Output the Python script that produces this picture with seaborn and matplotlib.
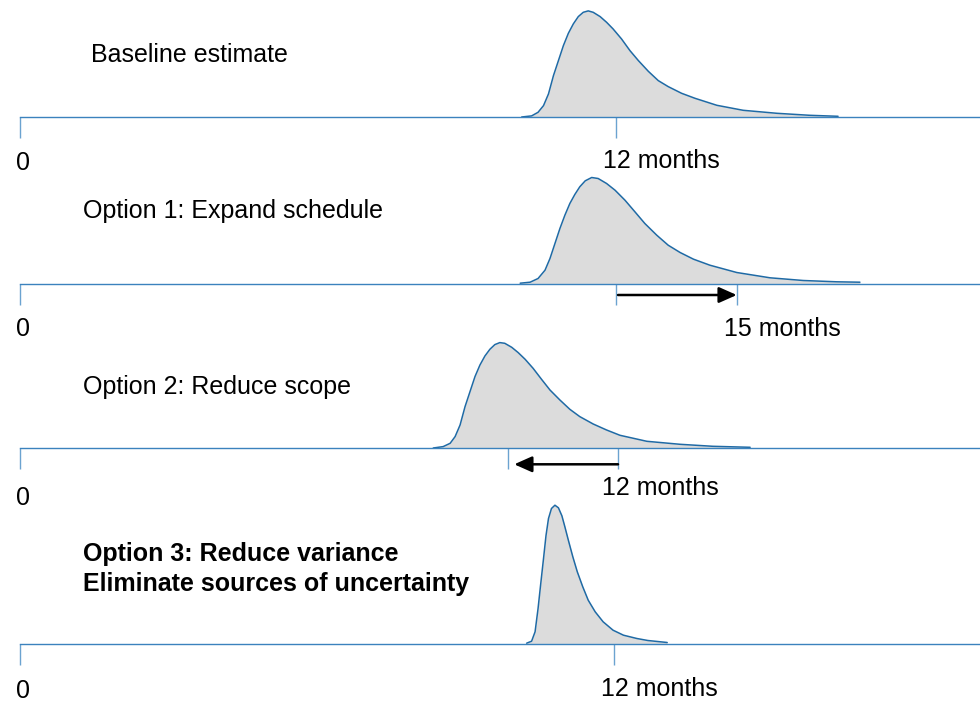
import matplotlib
matplotlib.use("Agg")
import matplotlib.pyplot as plt
import seaborn as sns

# schedule distributions, x in months, y = curve height (px above the axis line)
base_x = [10.10, 10.30, 10.43, 10.54, 10.64, 10.74, 10.84, 10.94, 11.04, 11.14,
          11.24, 11.34, 11.44, 11.54, 11.68, 11.81, 11.94, 12.11, 12.28, 12.45,
          12.65, 12.85, 13.05, 13.32, 13.59, 14.03, 14.56, 15.24, 15.90, 16.47]
base_y = [0.3, 1.4, 5, 11.7, 23.4, 41.7, 56.7, 71.7, 84, 93.4,
          100.7, 105, 106.4, 105, 100.7, 95, 88.4, 78.4, 66.7, 56.7,
          46, 36.7, 30.7, 24, 19, 12, 7, 4, 2, 1]

opt1_x = [10.07, 10.27, 10.43, 10.57, 10.67, 10.77, 10.87, 10.97, 11.07, 11.17,
          11.27, 11.38, 11.51, 11.64, 11.81, 11.98, 12.18, 12.38, 12.58, 12.82,
          13.05, 13.29, 13.56, 13.89, 14.43, 15.10, 15.77, 16.44, 16.91]
opt1_y = [0.3, 1.3, 5, 13.3, 25, 40, 55, 68.3, 80, 89,
          96.7, 102.7, 106, 105, 100, 93.3, 83.3, 71.7, 60, 48.3,
          38.3, 31, 24.3, 18.3, 11, 5.7, 3, 1.7, 1.3]

opt2_x = [8.32, 8.52, 8.66, 8.76, 8.86, 8.96, 9.06, 9.16, 9.26, 9.36,
          9.46, 9.56, 9.66, 9.76, 9.90, 10.03, 10.17, 10.33, 10.50, 10.67,
          10.87, 11.07, 11.27, 11.54, 11.81, 12.08, 12.62, 13.29, 13.95, 14.70]
opt2_y = [0.3, 1.7, 5, 11.7, 23.3, 41.7, 56.7, 71.7, 83.3, 92.3,
          99, 103.7, 105.7, 105, 101, 95.7, 89, 80, 69, 58.3,
          48.3, 39, 31.7, 24.3, 18.3, 13, 7, 4, 2, 1]

opt3_x = [10.20, 10.30, 10.37, 10.43, 10.48, 10.54, 10.59, 10.64, 10.70, 10.77,
          10.84, 10.91, 10.97, 11.04, 11.13, 11.22, 11.33, 11.44, 11.58, 11.74,
          11.94, 12.15, 12.42, 12.64, 13.03]
opt3_y = [0.3, 2.3, 11.7, 35, 58, 85, 108, 125, 135, 138.3,
          135.7, 127.7, 116.7, 103.3, 86.7, 71.7, 56.7, 43.3, 31.7, 21.7,
          13.3, 8.3, 5, 3, 1]

titles = [["Baseline estimate"],
          ["Option 1: Expand schedule"],
          ["Option 2: Reduce scope"],
          ["Option 3: Reduce variance", "Eliminate sources of uncertainty"]]

ticks = [[0, 12], [0, 12, 14.43], [0, 9.82, 12.04], [0, 11.96]]
tick_labels = [["0", "12 months"], ["0", "", "15 months"], ["0", "", "12 months"], ["0", "12 months"]]
arrows = [None, (12.04, 14.43), (12.04, 9.95), None]  # (from, to) in months

curves = [(base_x, base_y), (opt1_x, opt1_y), (opt2_x, opt2_y), (opt3_x, opt3_y)]

# layout (pixels)
W, H = 980, 703
baselines = [117.3, 283.5, 448.3, 643.5]
title_x = [1.43, 1.27, 1.27, 1.27]
title_y = [[55.5], [65.5], [54.5], [82, 52]]
label_y = [[-52.5, -51], [-52.5, 0, -52.5], [-56.5, 0, -47], [-55, -52.5]]
label_dx = [[0.07, -0.26], [0.07, 0, -0.26], [0.07, 0, -0.32], [0.07, -0.26]]
arrow_y = [0, -11.5, -16, 0]

sns.set_style("white")
plt.rcParams['font.family'] = ['Liberation Sans', 'DejaVu Sans']

axis_col = "#3b82bd"
tick_col = "#6ba3d0"
line_col = "#1f6aa5"
fill_col = "#dcdcdc"
fs = 18

fig = plt.figure(figsize=(W / 100, H / 100), dpi=100)
xmin, xmax = -20 / 49.67, 960 / 49.67
ph = 150

for i in range(4):
    ax = fig.add_axes([0, (H - baselines[i]) / H, 1, ph / H])
    ax.set_facecolor("none")
    cx, cy = curves[i]
    ax.fill_between(cx, 0, cy, color=fill_col, lw=0, zorder=1)
    sns.lineplot(x=cx, y=cy, ax=ax, color=line_col, lw=1.1, sort=False, estimator=None, zorder=2)
    ax.set_xlim(xmin, xmax)
    ax.set_ylim(0, ph)
    for s in ["left", "top", "right"]:
        ax.spines[s].set_visible(False)
    ax.spines["bottom"].set_bounds(0, xmax)
    ax.spines["bottom"].set_color(axis_col)
    ax.spines["bottom"].set_linewidth(1.0)
    ax.spines["bottom"].set_zorder(3)
    ax.set_yticks([])
    ax.set_xticks(ticks[i])
    ax.tick_params(axis="x", bottom=True, direction="out", length=15, width=1.0,
                   colors=tick_col, labelbottom=False)
    ax.set_xlabel("")
    ax.set_ylabel("")

    # tick labels
    for t, lab, ly, dx in zip(ticks[i], tick_labels[i], label_y[i], label_dx[i]):
        if lab == "":
            continue
        ha = "center" if lab == "0" else "left"
        ax.text(t + dx, ly, lab, ha=ha, va="baseline", fontsize=fs, color="black")

    # titles
    bold = len(titles[i]) > 1
    for txt, ty in zip(titles[i], title_y[i]):
        ax.text(title_x[i], ty, txt, ha="left", va="baseline", fontsize=fs,
                fontweight="bold" if bold else "normal", color="black")

    if arrows[i] is not None:
        a0, a1 = arrows[i]
        ax.annotate("", xy=(a1, arrow_y[i]), xytext=(a0, arrow_y[i]), annotation_clip=False,
                    arrowprops=dict(arrowstyle="-|>,head_length=0.45,head_width=0.2",
                                    color="black", lw=1.8, mutation_scale=24,
                                    shrinkA=0, shrinkB=0))

fig.savefig("out.png", dpi=100)
